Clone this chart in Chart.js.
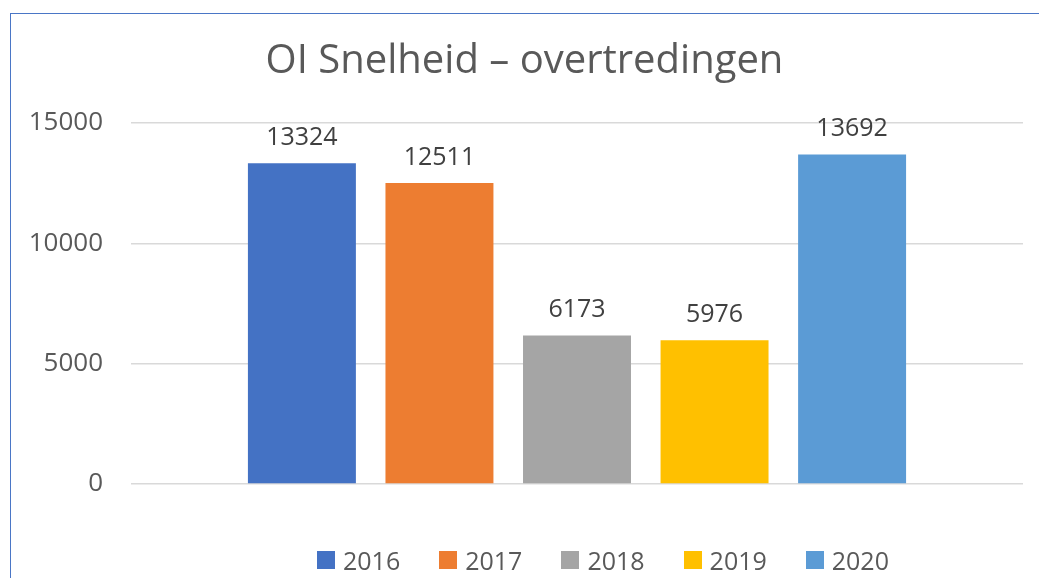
<!DOCTYPE html>
<html>
<head>
<meta charset="utf-8">
<script src="https://cdn.jsdelivr.net/npm/chart.js@4"></script>
<style>
  html, body { margin: 0; padding: 0; background: #fff; }
  #wrap { position: relative; width: 1039px; height: 578px; overflow: hidden; }
  #frame { position: absolute; left: 10px; top: 13px; right: -5px; bottom: -5px;
           border-left: 1px solid #4a76c6; border-top: 1px solid #4a76c6; }
  canvas { position: absolute; left: 0; top: 0; }
  #legend { position: absolute; top: 544px; left: -1px; width: 1208px; display: flex;
            justify-content: center; gap: 39px; font-family: 'Open Sans', sans-serif;
            font-size: 25px; color: #595959; line-height: 32px; }
  #legend span.item { display: flex; align-items: center; }
  #legend span.box { display: inline-block; width: 18px; height: 18px; margin-right: 8px; }
</style>
</head>
<body>
<div id="wrap">
  <div id="frame"></div>
  <canvas id="chart" width="1039" height="578"></canvas>
  <div id="legend"></div>
</div>
<script>
const years = ['2016', '2017', '2018', '2019', '2020']
const counts = [13324, 12511, 6173, 5976, 13692]
const colors = ['#4472C4', '#ED7D31', '#A5A5A5', '#FFC000', '#5B9BD5']
const yTicks = [0, 5000, 10000, 15000]

const font = "'Open Sans', sans-serif"

// waarden boven de staven
const valueLabels = {
  id: 'valueLabels',
  afterDatasetsDraw(chart) {
    const ctx = chart.ctx
    ctx.save()
    ctx.font = `25px ${font}`
    ctx.fillStyle = '#404040'
    ctx.textAlign = 'center'
    ctx.textBaseline = 'bottom'
    chart.data.datasets.forEach((ds, i) => {
      const bar = chart.getDatasetMeta(i).data[0]
      if (bar) ctx.fillText(String(ds.data[0]), bar.x, bar.y - 13)
    })
    ctx.restore()
  }
}

const chart = new Chart(document.getElementById('chart'), {
  type: 'bar',
  data: {
    labels: [''],
    datasets: years.map((y, i) => ({
      label: y,
      data: [counts[i]],
      backgroundColor: colors[i],
      borderWidth: 0
    }))
  },
  options: {
    responsive: false,
    animation: false,
    categoryPercentage: 0.771,
    barPercentage: 0.785,
    layout: { padding: { left: 26, right: 16, top: 0, bottom: 94 } },
    plugins: {
      legend: { display: false },
      tooltip: { enabled: false },
      title: {
        display: true,
        text: 'OI Snelheid – overtredingen',
        color: '#595959',
        font: { family: font, size: 40, weight: 'normal' },
        padding: { top: 38, bottom: 37 }
      }
    },
    scales: {
      x: { display: false },
      y: {
        min: 0,
        max: 15000,
        afterFit: s => { s.width = 105 },
        afterBuildTicks: s => { s.ticks = yTicks.map(v => ({ value: v })) },
        grid: { color: '#d9d9d9', lineWidth: 1.5, drawTicks: false },
        border: { display: false },
        ticks: {
          color: '#595959', padding: 28, font: { family: font, size: 26 },
          callback: v => String(v)
        }
      }
    }
  },
  plugins: [valueLabels]
})

const legend = document.getElementById('legend')
years.forEach((y, i) => {
  const item = document.createElement('span')
  item.className = 'item'
  item.innerHTML = `<span class="box" style="background:${colors[i]}"></span>${y}`
  legend.appendChild(item)
})
</script>
</body>
</html>
